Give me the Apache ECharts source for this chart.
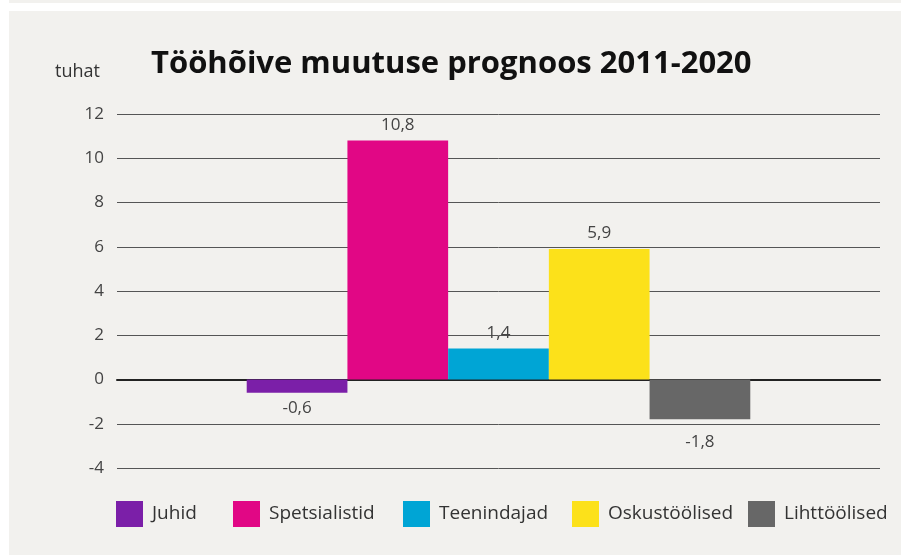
<!DOCTYPE html>
<html>
<head>
<meta charset="utf-8">
<style>
  html, body { margin: 0; padding: 0; background: #fff; }
  #chart { width: 907px; height: 555px; }
</style>
<script src="https://cdn.jsdelivr.net/npm/echarts@6/dist/echarts.min.js"></script>
</head>
<body>
<div id="chart"></div>
<script>
// Data (tuhat = thousands)
const groups = ['Juhid', 'Spetsialistid', 'Teenindajad', 'Oskustöölised', 'Lihttöölised'];
const changes = [-0.6, 10.8, 1.4, 5.9, -1.8];
const colors = ['#7b1fa8', '#e10785', '#00a5d5', '#fce11a', '#676767'];
const yTicks = { min: -4, max: 12, interval: 2 };

const FONT = "'Open Sans', 'Noto Sans', sans-serif";
const fmt = v => v.toFixed(1).replace('.', ',');

// legend swatch x positions, as laid out in the original
const legendLeft = [116, 233, 403, 572, 748];

const chart = echarts.init(document.getElementById('chart'));

const series = groups.map((name, i) => ({
    name: name,
    type: 'bar',
    barGap: '0%',
    barCategoryGap: '34%',
    itemStyle: { color: colors[i] },
    label: {
        show: true,
        position: changes[i] < 0 ? 'bottom' : 'top',
        distance: i === 4 ? 14 : 7,
        fontFamily: FONT,
        fontSize: 17,
        color: '#444',
        formatter: p => fmt(p.value)
    },
    data: [changes[i]]
}));

const legends = groups.map((name, i) => ({
    left: legendLeft[i],
    top: 501,
    padding: 0,
    icon: 'rect',
    itemWidth: 27,
    itemHeight: 26,
    data: [name],
    textStyle: { fontFamily: FONT, fontSize: 19, color: '#333', padding: [0, 0, 0, 4] }
}));

const option = {
    backgroundColor: '#fff',
    animation: false,
    graphic: [
        { type: 'rect', z: -10, shape: { x: 9, y: 0, width: 892, height: 3 }, style: { fill: '#f2f1ee' } },
        { type: 'rect', z: -10, shape: { x: 9, y: 11, width: 892, height: 544 }, style: { fill: '#f2f1ee' } },
        {
            type: 'text', left: 55, top: 63,
            style: { text: 'tuhat', font: "18px 'Open Sans', sans-serif", fill: '#333' }
        }
    ],
    title: {
        text: 'Tööhõive muutuse prognoos 2011-2020',
        left: 146,
        top: 44,
        textStyle: { fontFamily: FONT, fontWeight: 'bold', fontSize: 31, color: '#111' }
    },
    legend: legends,
    grid: { left: 117, right: 27, top: 114, bottom: 87 },
    xAxis: {
        type: 'category',
        data: [''],
        axisLabel: { show: false },
        axisTick: { show: false },
        axisLine: { onZero: true, lineStyle: { color: '#222', width: 2 } }
    },
    yAxis: {
        type: 'value',
        min: yTicks.min,
        max: yTicks.max,
        interval: yTicks.interval,
        axisLine: { show: false },
        axisTick: { show: false },
        axisLabel: { fontFamily: FONT, fontSize: 17, color: '#444', margin: 13 },
        splitLine: { lineStyle: { color: '#555', width: 1 } }
    },
    series: series
};

chart.setOption(option);
</script>
</body>
</html>
